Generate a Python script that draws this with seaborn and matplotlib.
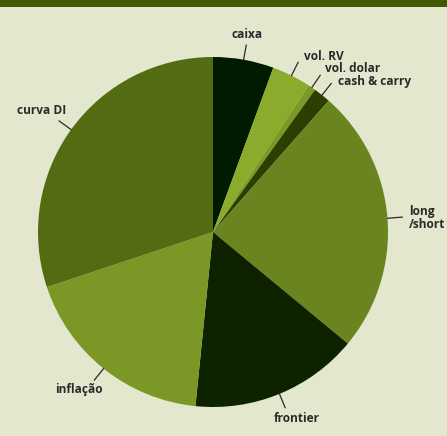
import numpy as np
import matplotlib
matplotlib.use("Agg")
import matplotlib.pyplot as plt
import seaborn as sns

# slice shares (%), clockwise from 12 o'clock
labels = ['caixa', 'vol. RV', 'vol. dolar', 'cash & carry', 'long\n/short',
          'frontier', 'inflação', 'curva DI']
shares = [5.6, 3.6, 0.7, 1.6, 24.5, 15.6, 18.3, 30.1]
colors = ['#001b00', '#8aab2b', '#7a9a24', '#2b3f00', '#6a8520',
          '#0d2300', '#7b9826', '#536c12']

# label text anchors in pixels (x, y from top) and alignment
label_pos = [(247, 35), (304, 56), (325, 69), (338, 82), (409, 218),
             (297, 419), (79, 390), (42, 111)]
label_ha = ['center', 'left', 'left', 'left', 'left', 'center', 'center', 'center']

W, H = 447, 436
bg = '#e2e7cd'

sns.set_theme(style='white')
plt.rcParams['font.family'] = ['Open Sans', 'DejaVu Sans']

fig = plt.figure(figsize=(W / 100, H / 100), dpi=100, facecolor=bg)
ax = fig.add_axes([0, 0, 1, 1])
ax.set_facecolor(bg)

cx, cy, r = 213, H - 232, 175
wedges, _ = ax.pie(shares, colors=colors, startangle=90, counterclock=False,
                   center=(cx, cy), radius=r, frame=True,
                   wedgeprops=dict(linewidth=0))
ax.set_xlim(0, W)
ax.set_ylim(0, H)
ax.set_aspect('equal')
ax.axis('off')

# top band
ax.add_patch(plt.Rectangle((0, H - 7), W, 7, color='#405a04', lw=0))

for w, lab, (tx, ty), ha in zip(wedges, labels, label_pos, label_ha):
    mid = np.deg2rad((w.theta1 + w.theta2) / 2)
    x0, y0 = cx + r * np.cos(mid), cy + r * np.sin(mid)
    x1, y1 = cx + (r + 15) * np.cos(mid), cy + (r + 15) * np.sin(mid)
    ax.plot([x0, x1], [y0, y1], color='#2a2a2a', lw=0.9)
    ax.text(tx, H - ty, lab, ha=ha, va='center', fontsize=8.6,
            fontweight='bold', color='#2a2a2a', linespacing=1.05)

fig.savefig('out.png', dpi=100, facecolor=bg)
